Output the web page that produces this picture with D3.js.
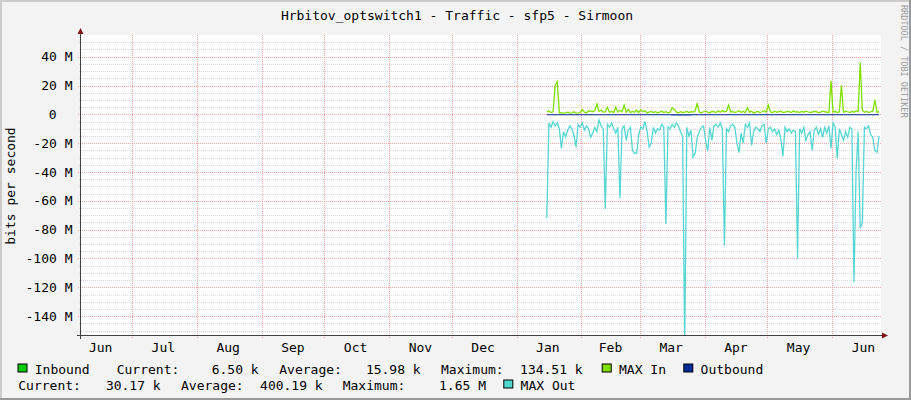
<!DOCTYPE html>
<html><head><meta charset="utf-8">
<script src="https://cdn.jsdelivr.net/npm/d3@7"></script>
<style>
body{margin:0;background:#f3f3f3;}
svg{display:block;}
text{font-family:"DejaVu Sans Mono",monospace;fill:#000;}
</style>
</head><body>
<svg id="chart" width="911" height="400"></svg>
<script>
// ---------------- DATA ----------------
const title = "Hrbitov_optswitch1 - Traffic - sfp5 - Sirmoon";
const yAxisTitle = "bits per second";
const watermark = "RRDTOOL / TOBI OETIKER";
const yTickValues = [40, 20, 0, -20, -40, -60, -80, -100, -120, -140]; // M bits/s
const yTickLabels = ["40 M", "20 M", "0", "-20 M", "-40 M", "-60 M", "-80 M", "-100 M", "-120 M", "-140 M"];
const monthLabels = ["Jun", "Jul", "Aug", "Sep", "Oct", "Nov", "Dec", "Jan", "Feb", "Mar", "Apr", "May", "Jun"];
const monthLabelDates = ["2022-06-16", "2022-07-16", "2022-08-16", "2022-09-16", "2022-10-16", "2022-11-16", "2022-12-16",
  "2023-01-16", "2023-02-15", "2023-03-16", "2023-04-16", "2023-05-16", "2023-06-16"];
const monthStartDates = ["2022-07-01", "2022-08-01", "2022-09-01", "2022-10-01", "2022-11-01", "2022-12-01",
  "2023-01-01", "2023-02-01", "2023-03-01", "2023-04-01", "2023-05-01", "2023-06-01"];
const viewStart = "2022-06-06T14:00:00Z";
const viewEnd = "2023-06-24T10:30:00Z";
const dataStart = "2023-01-15T12:00:00Z"; // first daily sample

// daily MAX inbound, M bits/s
const maxIn = [
  1.5, 2.5, 1.2, 1.8, 20, 22.6, 1.0, 1.2, 0.8, 1.0,
  1.5, 0.8, 1.0, 1.8, 0.9, 1.0, 1.2, 3.5, 1.5, 1.0,
  2.5, 2.2, 1.8, 2.8, 7.2, 2.0, 3.0, 1.5, 1.8, 4.9,
  1.5, 2.0, 1.2, 4.9, 1.5, 2.8, 1.8, 6.5, 1.5, 3.5,
  1.2, 2.0, 1.5, 3.0, 1.2, 3.2, 1.8, 2.5, 1.0, 1.5,
  2.0, 1.2, 1.8, 1.0, 1.5, 2.2, 1.2, 1.8, 1.0, 1.5,
  4.5, 3.5, 1.5, 1.0, 1.8, 1.2, 1.5, 2.0, 1.2, 1.8,
  1.5, 2.5, 7.7, 1.5, 1.0, 1.8, 2.2, 1.5, 1.0, 2.0,
  1.8, 1.2, 2.5, 1.5, 2.6, 1.8, 2.2, 6.5, 1.5, 2.0,
  1.2, 1.8, 2.5, 1.5, 2.0, 1.2, 4.6, 1.5, 2.2, 1.0,
  1.5, 2.0, 1.2, 1.8, 2.5, 1.5, 6.5, 1.8, 1.2, 2.0,
  1.5, 1.8, 2.2, 1.2, 1.5, 2.0, 1.8, 1.2, 2.5, 1.5,
  1.8, 1.2, 2.0, 1.5, 2.2, 1.8, 1.2, 1.5, 2.0, 1.8,
  1.2, 1.5, 2.2, 1.8, 1.5, 1.2, 23.3, 1.5, 2.0, 1.2,
  1.8, 20, 1.5, 2.2, 1.8, 1.2, 2.0, 1.5, 2.5, 1.8,
  36, 3.0, 1.5, 2.0, 1.2, 1.8, 2.2, 10, 1.5, 1.8
];
// daily MAX outbound (drawn below zero), M bits/s
const maxOut = [
  -72, -6, -9, -5, -8, -6, -10, -23.6, -12, -15.7,
  -11, -8, -10, -14.5, -22.7, -7, -9, -6, -11, -8,
  -10, -16, -13, -9, -12, -4, -8, -10, -65.6, -7,
  -9, -6, -10, -13, -9, -58.4, -10, -8, -18, -11,
  -9, -25, -27, -27, -14, -8.7, -10, -5, -12, -22.7,
  -20, -9, -13, -10, -11, -7, -9, -76, -8.7, -10,
  -7, -9, -6, -8, -12, -15, -160, -9, -15, -11,
  -29.6, -27, -16, -12, -9, -8, -18, -25.5, -9, -18,
  -8, -7, -9, -6, -10, -90.8, -10, -12, -8, -7,
  -9, -20, -26.6, -13, -20, -7, -9, -6, -21.5, -12,
  -9, -10, -12, -8, -7, -20, -10, -9, -12, -10,
  -14, -11, -17, -29, -9, -12, -10, -13, -11, -12,
  -100, -10, -13, -9, -18, -14, -12, -25, -11, -9,
  -14, -10, -16, -9, -13, -8, -23.6, -6, -9, -30.6,
  -10, -14, -18, -12, -16, -9, -10, -116.5, -40, -12,
  -79, -75, -9, -10, -8, -14, -16, -25, -26.4, -15
];
// 10-day average inbound / outbound, M bits/s
const avgIn = [0.02, 0.02, 0.01, 0.02, 0.01, 0.02, 0.02, 0.01, 0.02, 0.02, 0.01, 0.02, 0.02, 0.01, 0.02, 0.01];
const avgOut = [0.7, 0.6, 0.6, 0.7, 0.6, 0.6, 0.8, 0.6, 0.7, 0.6, 0.6, 0.7, 0.6, 0.6, 0.7, 0.6];

const legendRows = [
  [{swatch: "#00CC00", label: "Inbound"}, {text: "Current:"}, {value: "6.50 k"}, {text: "Average:"}, {value: "15.98 k"},
   {text: "Maximum:"}, {value: "134.51 k"}, {swatch: "#7FE000", label: "MAX In"}, {swatch: "#002A97", label: "Outbound"}],
  [{text: "Current:"}, {value: "30.17 k"}, {text: "Average:"}, {value: "400.19 k"}, {text: "Maximum:"}, {value: "1.65 M"},
   {swatch: "#55D6D3", label: "MAX Out"}]
];

// ---------------- LAYOUT ----------------
const W = 911, H = 400;
const plot = {left: 81, right: 881, top: 35, bottom: 335};
const svg = d3.select("#chart");
const DAY = 86400000;
const parse = s => new Date(s.length === 10 ? s + "T00:00:00Z" : s);

const x = d3.scaleUtc().domain([parse(viewStart), parse(viewEnd)]).range([plot.left, plot.right]);
const M = 1e6;
const y = d3.scaleLinear().domain([-153.1 * M, 55.05 * M]).range([plot.bottom, plot.top]);

// background & frame
svg.append("rect").attr("width", W).attr("height", H).attr("fill", "#f3f3f3");
svg.append("rect").attr("x", 0).attr("y", 0).attr("width", W).attr("height", 2).attr("fill", "#cbcbcb");
svg.append("rect").attr("x", 0).attr("y", 0).attr("width", 2).attr("height", H).attr("fill", "#cbcbcb");
svg.append("rect").attr("x", 0).attr("y", H - 2).attr("width", W).attr("height", 2).attr("fill", "#999");
svg.append("rect").attr("x", W - 2).attr("y", 0).attr("width", 2).attr("height", H).attr("fill", "#999");

// canvas
svg.append("rect").attr("x", plot.left).attr("y", plot.top).attr("width", plot.right - plot.left)
  .attr("height", plot.bottom - plot.top).attr("fill", "#fff");

// title
svg.append("text").attr("x", 457).attr("y", 19.5).attr("text-anchor", "middle")
  .style("font-size", "13px").text(title);

// watermark
svg.append("text").attr("transform", "translate(901,5) rotate(90)")
  .style("font-size", "8.5px").style("fill", "#9a9a9a").text(watermark);

// y title
svg.append("text").attr("transform", "translate(14.5,186) rotate(-90)").attr("text-anchor", "middle")
  .style("font-size", "13px").text(yAxisTitle);

const grid = svg.append("g");
// minor horizontal grid every 5M
const minor = d3.range(-150, 55, 5).filter(v => v % 20 !== 0);
grid.selectAll(".minor").data(minor).join("line")
  .attr("x1", plot.left - 2).attr("x2", plot.right)
  .attr("y1", d => Math.round(y(d * M)) + 0.5).attr("y2", d => Math.round(y(d * M)) + 0.5)
  .attr("stroke", "#dadada").attr("stroke-dasharray", "1,1");
// major horizontal grid
grid.selectAll(".major").data(yTickValues).join("line")
  .attr("x1", plot.left - 3).attr("x2", plot.right)
  .attr("y1", d => Math.round(y(d * M)) + 0.5).attr("y2", d => Math.round(y(d * M)) + 0.5)
  .attr("stroke", "#f0a4a4").attr("stroke-dasharray", "1,1");
// vertical month grid
grid.selectAll(".vmaj").data(monthStartDates).join("line")
  .attr("x1", d => Math.round(x(parse(d))) + 0.5).attr("x2", d => Math.round(x(parse(d))) + 0.5)
  .attr("y1", plot.top).attr("y2", plot.bottom + 3)
  .attr("stroke", "#f0a4a4").attr("stroke-dasharray", "1,1");

// y labels
svg.append("g").selectAll("text").data(yTickValues).join("text")
  .attr("x", (d, i) => yTickLabels[i].includes("M") ? 72.5 : 56.5)
  .attr("y", d => y(d * M)).attr("dy", "0.36em").attr("text-anchor", "end")
  .style("font-size", "13px").text((d, i) => yTickLabels[i]);

// x labels
svg.append("g").selectAll("text").data(monthLabelDates).join("text")
  .attr("x", d => x(parse(d))).attr("y", 351.5).attr("text-anchor", "middle")
  .style("font-size", "13px").text((d, i) => monthLabels[i]);

// ---------------- SERIES ----------------
const t0 = parse(dataStart).getTime();
const daily = (arr) => arr.map((v, i) => ({t: new Date(t0 + i * DAY), v: v * M}));
const blocks = (arr) => {
  const pts = [];
  arr.forEach((v, i) => { for (let k = 0; k < 10 && i * 10 + k < 160; k++) pts.push({t: new Date(t0 + (i * 10 + k) * DAY), v: v * M}); });
  return pts;
};
const clipId = "plotclip";
svg.append("clipPath").attr("id", clipId).append("rect")
  .attr("x", plot.left).attr("y", plot.top).attr("width", plot.right - plot.left).attr("height", plot.bottom - plot.top);
const series = svg.append("g").attr("clip-path", `url(#${clipId})`);

const area = sign => d3.area().curve(d3.curveStep).x(d => x(d.t)).y0(y(0)).y1(d => y(sign * d.v));
const line = d3.line().curve(d3.curveLinear).x(d => x(d.t)).y(d => y(d.v));

series.append("path").datum(blocks(avgIn)).attr("d", area(1)).attr("fill", "#00CC00");
series.append("path").datum(daily(maxIn)).attr("d", line).attr("fill", "none").attr("stroke", "#7FE000").attr("stroke-width", 1.3);
series.append("path").datum(blocks(avgOut)).attr("d", area(-1)).attr("fill", "#002A97");
series.append("path").datum(daily(maxOut)).attr("d", line).attr("fill", "none").attr("stroke", "#55D6D3").attr("stroke-width", 1.3);

// ---------------- AXES ----------------
const axisColor = "#404040", arrowColor = "#7f1414";
svg.append("line").attr("x1", plot.left - 4).attr("x2", plot.right + 2).attr("y1", plot.bottom + 0.5).attr("y2", plot.bottom + 0.5)
  .attr("stroke", axisColor);
svg.append("line").attr("x1", plot.left - 0.5).attr("x2", plot.left - 0.5).attr("y1", plot.bottom + 4).attr("y2", plot.top - 2)
  .attr("stroke", axisColor);
svg.append("path").attr("d", `M${plot.left - 3.5},${plot.top - 1} L${plot.left + 2.5},${plot.top - 1} L${plot.left - 0.5},${plot.top - 7} Z`)
  .attr("fill", arrowColor);
svg.append("path").attr("d", `M${plot.right + 1},${plot.bottom - 2.5} L${plot.right + 1},${plot.bottom + 3.5} L${plot.right + 7},${plot.bottom + 0.5} Z`)
  .attr("fill", arrowColor);

// ---------------- LEGEND ----------------
const legendPos = [
  [17.5, 116.7, 258.7, 279.3, 420.7, 441, 582.7, 601.7, 683.3],
  [18.3, 160.7, 181, 322.7, 342.7, 486, 503.3]
];
const baselines = [373.5, 389.5];
const lg = svg.append("g");
legendRows.forEach((row, r) => {
  row.forEach((item, j) => {
    const px = legendPos[r][j];
    if (item.swatch) {
      lg.append("rect").attr("x", px + 0.5).attr("y", baselines[r] - 9.5).attr("width", 9).attr("height", 8)
        .attr("fill", item.swatch).attr("stroke", "#000").attr("stroke-width", 1);
      lg.append("text").attr("x", px + 17.3).attr("y", baselines[r]).style("font-size", "13px").text(item.label);
    } else if (item.value) {
      lg.append("text").attr("x", px).attr("y", baselines[r]).attr("text-anchor", "end").style("font-size", "13px").text(item.value);
    } else {
      lg.append("text").attr("x", px).attr("y", baselines[r]).style("font-size", "13px").text(item.text);
    }
  });
});
</script>
</body></html>
